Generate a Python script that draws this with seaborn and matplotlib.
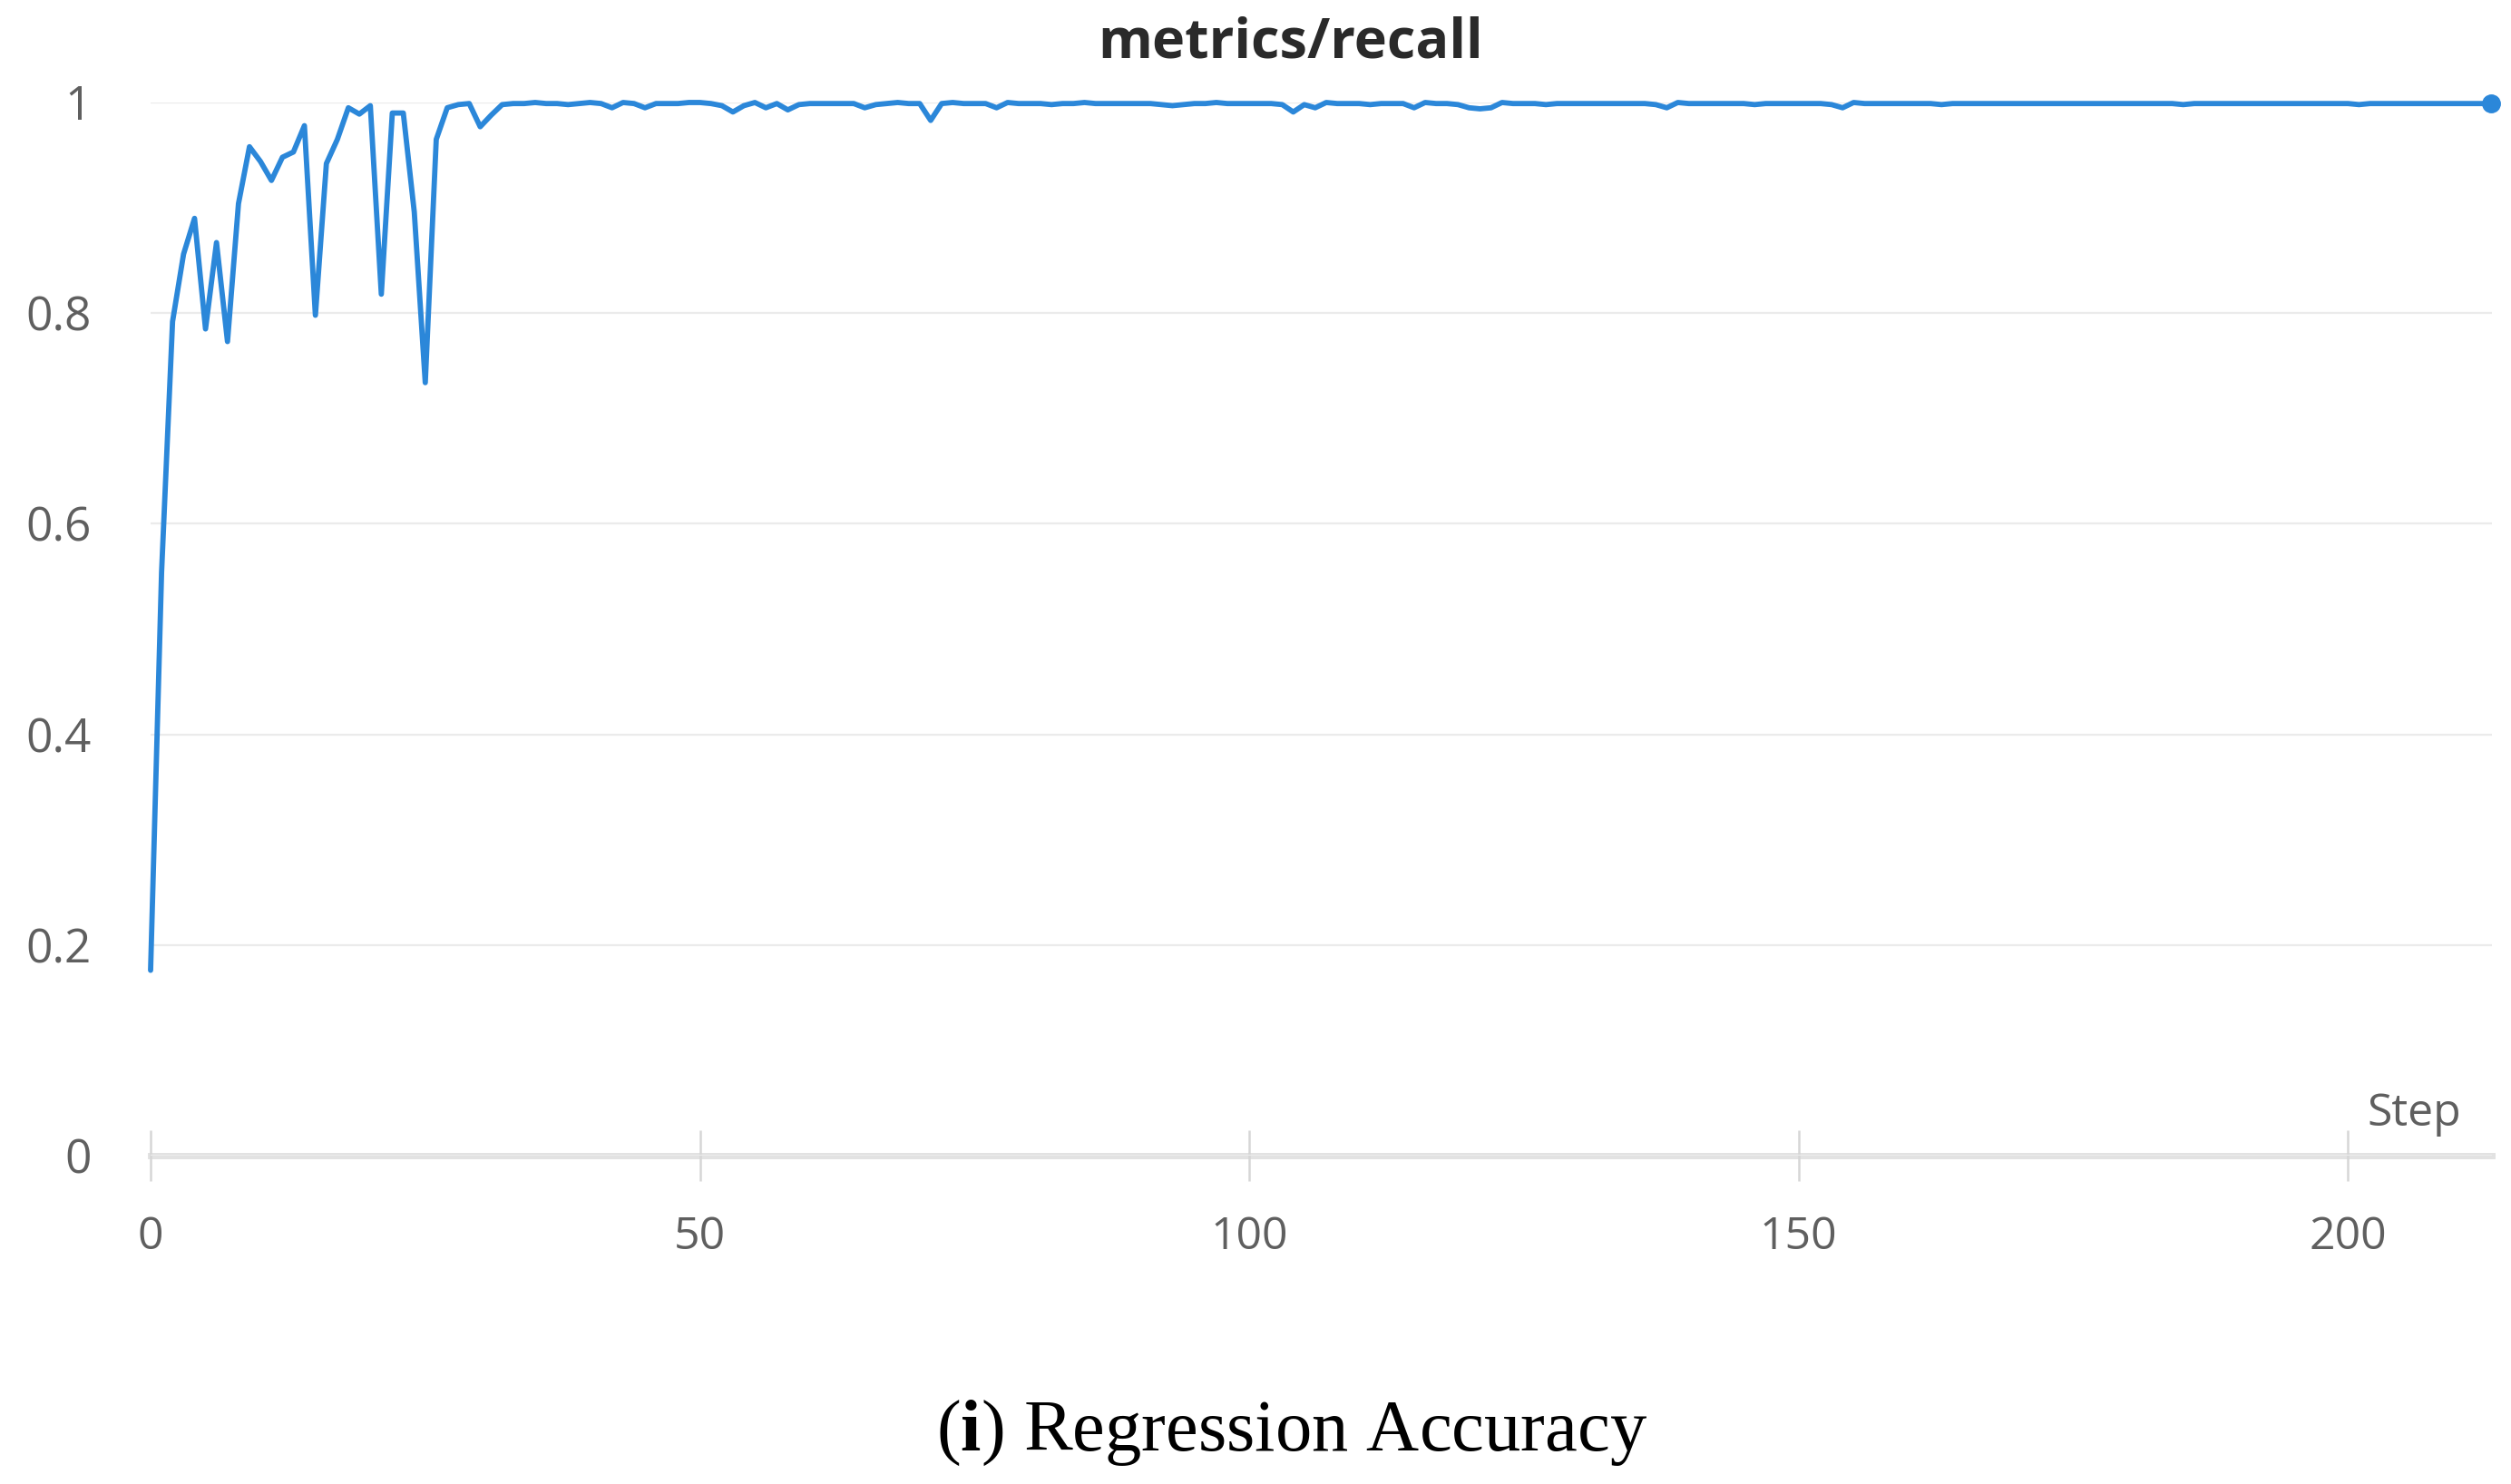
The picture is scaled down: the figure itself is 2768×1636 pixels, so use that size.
import numpy as np
import pandas as pd
import matplotlib
matplotlib.use("Agg")
import matplotlib.pyplot as plt
import seaborn as sns

# recall per step
recall = [
    0.176, 0.554, 0.792, 0.856, 0.890, 0.785, 0.867, 0.773, 0.904, 0.958,
    0.944, 0.926, 0.948, 0.953, 0.978, 0.798, 0.942, 0.965, 0.995, 0.989,
    0.997, 0.818, 0.990, 0.990, 0.896, 0.734, 0.965, 0.995, 0.998, 0.999,
    0.977, 0.988, 0.998, 0.999, 0.999, 1.000, 0.999, 0.999, 0.998, 0.999,
    1.000, 0.999, 0.995, 1.000, 0.999, 0.995, 0.999, 0.999, 0.999, 1.000,
    1.000, 0.999, 0.997, 0.991, 0.997, 1.000, 0.995, 0.999, 0.993, 0.998,
    0.999, 0.999, 0.999, 0.999, 0.999, 0.995, 0.998, 0.999, 1.000, 0.999,
    0.999, 0.983, 0.999, 1.000, 0.999, 0.999, 0.999, 0.995, 1.000, 0.999,
    0.999, 0.999, 0.998, 0.999, 0.999, 1.000, 0.999, 0.999, 0.999, 0.999,
    0.999, 0.999, 0.998, 0.997, 0.998, 0.999, 0.999, 1.000, 0.999, 0.999,
    0.999, 0.999, 0.999, 0.998, 0.991, 0.998, 0.995, 1.000, 0.999, 0.999,
    0.999, 0.998, 0.999, 0.999, 0.999, 0.995, 1.000, 0.999, 0.999, 0.998,
    0.995, 0.994, 0.995, 1.000, 0.999, 0.999, 0.999, 0.998, 0.999, 0.999,
    0.999, 0.999, 0.999, 0.999, 0.999, 0.999, 0.999, 0.998, 0.995, 1.000,
    0.999, 0.999, 0.999, 0.999, 0.999, 0.999, 0.998, 0.999, 0.999, 0.999,
    0.999, 0.999, 0.999, 0.998, 0.995, 1.000, 0.999, 0.999, 0.999, 0.999,
    0.999, 0.999, 0.999, 0.998, 0.999, 0.999, 0.999, 0.999, 0.999, 0.999,
    0.999, 0.999, 0.999, 0.999, 0.999, 0.999, 0.999, 0.999, 0.999, 0.999,
    0.999, 0.999, 0.999, 0.999, 0.999, 0.998, 0.999, 0.999, 0.999, 0.999,
    0.999, 0.999, 0.999, 0.999, 0.999, 0.999, 0.999, 0.999, 0.999, 0.999,
    0.999, 0.998, 0.999, 0.999, 0.999, 0.999, 0.999, 0.999, 0.999, 0.999,
    0.999, 0.999, 0.999, 0.999,
]
steps = list(range(len(recall)))

x_ticks = [0, 50, 100, 150, 200]
y_ticks = [0, 0.2, 0.4, 0.6, 0.8, 1.0]
y_tick_labels = ["0", "0.2", "0.4", "0.6", "0.8", "1"]

title = "metrics/recall"
x_label = "Step"
caption = r"($\mathbf{i}$) Regression Accuracy"

df = pd.DataFrame({"step": steps, "recall": recall})

sns.set_theme(style="white")
plt.rcParams["font.family"] = ["Open Sans", "DejaVu Sans"]
plt.rcParams["mathtext.fontset"] = "custom"
plt.rcParams["mathtext.rm"] = "Liberation Serif"
plt.rcParams["mathtext.bf"] = "Liberation Serif:bold"

line_color = "#2b87d9"
grey_text = "#5f5f5f"

W, H = 2768, 1636
fig = plt.figure(figsize=(W / 100, H / 100), dpi=100)
left, right = 166, 2747
top, bottom = 113, 1274
ax = fig.add_axes([left / W, 1 - bottom / H, (right - left) / W, (bottom - top) / H])

sns.lineplot(data=df, x="step", y="recall", ax=ax, color=line_color, linewidth=4.2)
ax.lines[0].set_clip_on(False)
ax.plot(steps[-1], recall[-1], "o", color=line_color, markersize=14, clip_on=False, zorder=5)

ax.set_xlim(0, 213.1)
ax.set_ylim(0, 1)
ax.set_xticks(x_ticks)
ax.set_yticks(y_ticks)
ax.set_yticklabels(y_tick_labels)
ax.set_xlabel("")
ax.set_ylabel("")

ax.yaxis.grid(True, color="#ebebeb", linewidth=1.6)
ax.xaxis.grid(False)
for s in ["top", "right", "left"]:
    ax.spines[s].set_visible(False)
ax.spines["bottom"].set_color("#e2e2e2")
ax.spines["bottom"].set_linewidth(5)
ax.spines["bottom"].set_zorder(0.5)

ax.tick_params(axis="y", left=False, length=0, pad=47, labelsize=37, labelcolor=grey_text)
ax.tick_params(axis="x", bottom=True, direction="inout", length=40, width=1.8, color="#d6d6d6",
               pad=27, labelsize=36, labelcolor=grey_text)

ax.text(0.9667, 0.039, x_label, transform=ax.transAxes, ha="center", va="center",
        fontsize=36, color=grey_text)

fig.text(1423 / W, 1 - 48 / H, title, ha="center", va="center",
         fontsize=44, fontweight="bold", color="#2a2a2a")

fig.text(1424 / W, 1 - 1599 / H, caption, ha="center", va="baseline",
         fontsize=58, color="black", family="Liberation Serif")

fig.savefig("out.png", dpi=100, facecolor="white")
